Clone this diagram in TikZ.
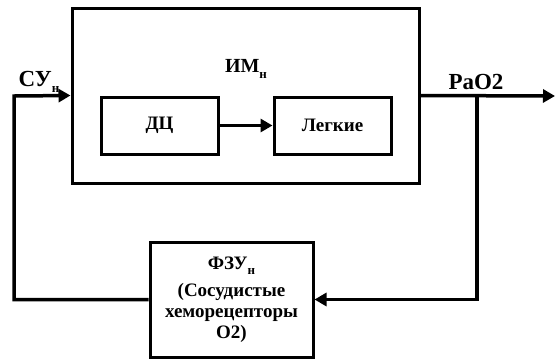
\documentclass[tikz,border=0pt]{standalone}
\usepackage{fontspec}
\setmainfont{Liberation Serif}
\usetikzlibrary{arrows.meta,positioning}
\newcommand{\lowsub}[1]{\raisebox{-0.6ex}{\fontsize{13pt}{14pt}\selectfont #1}}

\begin{document}
\begin{tikzpicture}[x=1pt, y=-1pt,
  block/.style={draw, line width=3pt, align=center,
    font=\fontsize{19pt}{21pt}\selectfont\bfseries, inner sep=0pt},
  lbl/.style={font=\fontsize{23pt}{25pt}\selectfont\bfseries, inner sep=0pt},
  arr/.style={-{Triangle[length=12pt,width=13pt]}, line width=3.5pt},
]
  \useasboundingbox (0,0) rectangle (555,360);
  % blocks
  \node[block, minimum width=347pt, minimum height=175pt] (im) at (245.5,95.5) {};
  \node[lbl, font=\fontsize{20pt}{22pt}\selectfont\bfseries] (imlbl) at (246,69) {ИМ\lowsub{н}};
  \node[block, minimum width=117pt, minimum height=57pt] (dc) at (159.5,125.5) {ДЦ};
  \node[block, minimum width=117pt, minimum height=57pt] (lung) at (332.5,125.5) {Легкие};
  \node[block, minimum width=163pt, minimum height=115pt] (fzu) at (231.5,299.5)
    {ФЗУ\lowsub{н}\\[6pt](Сосудистые\\хеморецепторы\\О2)};
  % labels
  \node[lbl] (su) at (39,82) {СУ\lowsub{н}};
  \node[lbl] (pao) at (476,82) {PaO2};
  % connectors
  \coordinate (inl) at (14,96);
  \coordinate (br) at (477,96);
  \coordinate (out) at (555,96);
  \draw[arr] (dc) -- (lung);
  \draw[arr] (fzu.west) -| (inl) -- (im.west);
  \draw[arr] (im.east) -- (out);
  \draw[arr] (br) |- (fzu.east);
\end{tikzpicture}
\end{document}
